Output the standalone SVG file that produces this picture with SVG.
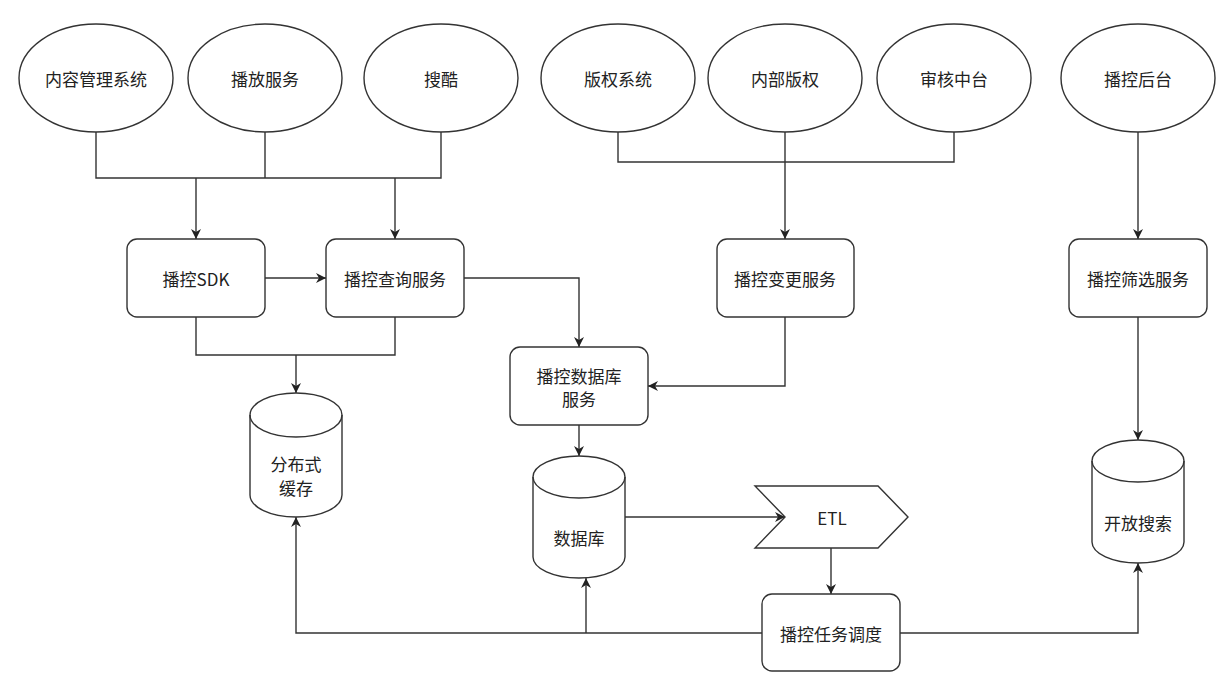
<svg xmlns="http://www.w3.org/2000/svg" width="1228" height="680" viewBox="0 0 1228 680">
<defs>
<style>
.n{fill:#fff;stroke:#333;stroke-width:1.4}
.t{font-family:"Noto Sans CJK SC","Noto Sans",sans-serif;font-size:17px;fill:#222;text-anchor:middle;dominant-baseline:central}
.c{fill:none;stroke:#333;stroke-width:1.4}
.a{marker-end:url(#arr)}
</style>
<marker id="arr" viewBox="0 0 10 10" refX="10" refY="5" markerWidth="10" markerHeight="10" markerUnits="userSpaceOnUse" orient="auto">
<path d="M0,0 L10,5 L0,10 L3,5 Z" fill="#222"/>
</marker>
</defs>
<rect width="1228" height="680" fill="#fff"/>
<g id="connectors">
<path class="c" d="M96,132 V178 H441 V132 M265,132 V178"/>
<path class="c a" d="M196,178 V239"/>
<path class="c a" d="M395,178 V239"/>
<path class="c" d="M618,132 V162 H954 V132"/>
<path class="c a" d="M785,132 V239"/>
<path class="c a" d="M1138,132 V239"/>
<path class="c a" d="M265,278 H326"/>
<path class="c a" d="M464,278 H579 V347"/>
<path class="c" d="M196,317 V355 H395 V317"/>
<path class="c a" d="M296,355 V393"/>
<path class="c a" d="M785,317 V386 H648"/>
<path class="c a" d="M579,425 V456"/>
<path class="c a" d="M625,517 H785"/>
<path class="c a" d="M831,548 V594"/>
<path class="c a" d="M762,633 H296 V517"/>
<path class="c a" d="M586,633 V578"/>
<path class="c a" d="M900,633 H1138 V563"/>
<path class="c a" d="M1138,317 V440"/>
</g>
<g id="cms"><ellipse class="n" cx="96" cy="78" rx="77" ry="54"/><text class="t" x="96" y="78">内容管理系统</text></g>
<g id="play"><ellipse class="n" cx="265" cy="78" rx="77" ry="54"/><text class="t" x="265" y="78">播放服务</text></g>
<g id="soku"><ellipse class="n" cx="441" cy="78" rx="77" ry="54"/><text class="t" x="441" y="78">搜酷</text></g>
<g id="copyright"><ellipse class="n" cx="618" cy="78" rx="77" ry="54"/><text class="t" x="618" y="78">版权系统</text></g>
<g id="internal"><ellipse class="n" cx="785" cy="78" rx="77" ry="54"/><text class="t" x="785" y="78">内部版权</text></g>
<g id="audit"><ellipse class="n" cx="954" cy="78" rx="77" ry="54"/><text class="t" x="954" y="78">审核中台</text></g>
<g id="admin"><ellipse class="n" cx="1138" cy="78" rx="77" ry="54"/><text class="t" x="1138" y="78">播控后台</text></g>
<g id="sdk"><rect class="n" x="127" y="239" width="138" height="78" rx="10"/><text class="t" x="196" y="278">播控SDK</text></g>
<g id="query"><rect class="n" x="326" y="239" width="138" height="78" rx="10"/><text class="t" x="395" y="278">播控查询服务</text></g>
<g id="change"><rect class="n" x="717" y="239" width="137" height="78" rx="10"/><text class="t" x="785" y="278">播控变更服务</text></g>
<g id="filter"><rect class="n" x="1069" y="239" width="138" height="78" rx="10"/><text class="t" x="1138" y="278">播控筛选服务</text></g>
<g id="dbsvc"><rect class="n" x="510" y="347" width="138" height="78" rx="10"/><text class="t" x="579" y="375">播控数据库</text><text class="t" x="579" y="398">服务</text></g>
<g id="cache"><path class="n" d="M250,415 A46,22 0 0 1 342,415 L342,495 A46,22 0 0 1 250,495 Z"/><path class="c" d="M250,415 A46,22 0 0 0 342,415"/><text class="t" x="296" y="463">分布式</text><text class="t" x="296" y="487">缓存</text></g>
<g id="db"><path class="n" d="M533,477 A46,21 0 0 1 625,477 L625,557 A46,21 0 0 1 533,557 Z"/><path class="c" d="M533,477 A46,21 0 0 0 625,477"/><text class="t" x="579" y="537">数据库</text></g>
<g id="search"><path class="n" d="M1092,461 A46,21 0 0 1 1184,461 L1184,542 A46,21 0 0 1 1092,542 Z"/><path class="c" d="M1092,461 A46,21 0 0 0 1184,461"/><text class="t" x="1138" y="522">开放搜索</text></g>
<g id="etl"><path class="n" d="M755,486 L878,486 L908,517 L878,548 L755,548 L785,517 Z"/><text class="t" x="832" y="517">ETL</text></g>
<g id="sched"><rect class="n" x="762" y="594" width="138" height="77" rx="10"/><text class="t" x="831" y="633">播控任务调度</text></g>
</svg>
